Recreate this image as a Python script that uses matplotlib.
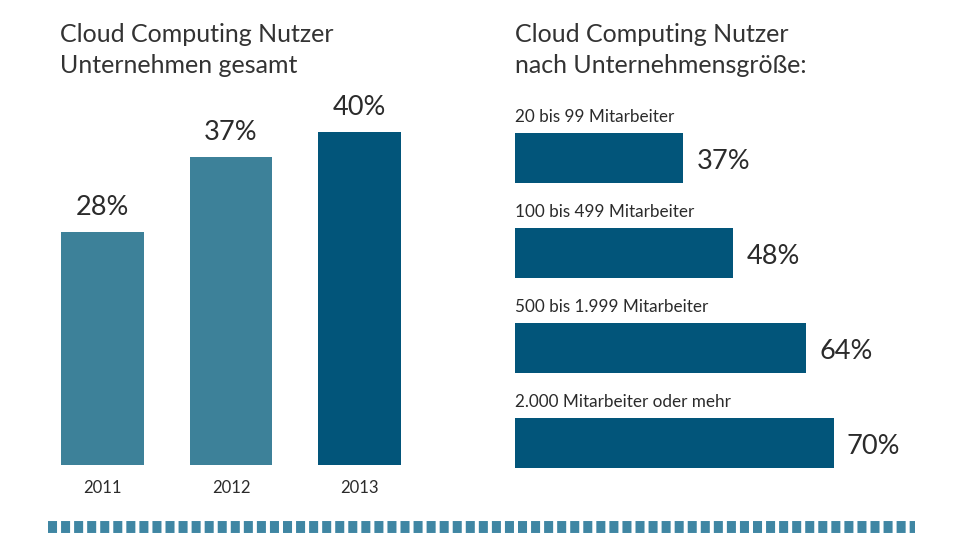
import matplotlib
matplotlib.use("Agg")
import matplotlib.pyplot as plt
from matplotlib.lines import Line2D

plt.rcParams['font.family'] = ['Lato', 'DejaVu Sans']
plt.rcParams['lines.scale_dashes'] = False

# Daten
jahre = ["2011", "2012", "2013"]
anteil_gesamt = [28, 37, 40]
farben_jahre = ["#3d8199", "#3d8199", "#02557a"]

groessen = ["20 bis 99 Mitarbeiter", "100 bis 499 Mitarbeiter",
            "500 bis 1.999 Mitarbeiter", "2.000 Mitarbeiter oder mehr"]
anteil_groesse = [37, 48, 64, 70]

W, H = 960, 539
fig = plt.figure(figsize=(W / 100, H / 100), dpi=100)
textfarbe = "#2b2b2b"

# Titel
fig.text(60 / W, 1 - 23 / H, "Cloud Computing Nutzer\nUnternehmen gesamt",
         fontsize=18, color="#333333", va="top", ha="left", linespacing=1.42)
fig.text(515 / W, 1 - 23 / H, "Cloud Computing Nutzer\nnach Unternehmensgröße:",
         fontsize=18, color="#333333", va="top", ha="left", linespacing=1.42)

# Linkes Diagramm: Säulen
ax1 = fig.add_axes([38 / W, 74 / H, 386 / W, 416 / H])
x = range(len(jahre))
ax1.bar(x, anteil_gesamt, width=0.64, color=farben_jahre)
for i, v in enumerate(anteil_gesamt):
    ax1.text(i, v + 1.5, f"{v}%", ha="center", va="bottom", fontsize=19.5, color=textfarbe)
    ax1.text(i, -2.8, jahre[i], ha="center", va="center", fontsize=12,
             color=textfarbe, clip_on=False)
ax1.set_xlim(-0.5, 2.5)
ax1.set_ylim(0, 50)
ax1.axis("off")

# Rechtes Diagramm: Balken
ax2 = fig.add_axes([515 / W, 48.5 / H, 455 / W, 380 / H])
y = range(len(groessen))
ax2.barh(y, anteil_groesse, height=0.526, color="#02557a", align="center")
for i, v in enumerate(anteil_groesse):
    ax2.text(0, i - 0.263 - 0.08, groessen[i], ha="left", va="bottom",
             fontsize=12.3, color=textfarbe)
    ax2.text(v + 2.9, i + 0.04, f"{v}%", ha="left", va="center", fontsize=19.5,
             color=textfarbe)
ax2.set_xlim(0, 100)
ax2.set_ylim(3.5, -0.5)
ax2.axis("off")

# gestrichelte Linie unten
fig.add_artist(Line2D([48 / W, 915 / W], [1 - 527 / H, 1 - 527 / H],
                      transform=fig.transFigure, color="#3f86a3", lw=8.6,
                      linestyle=(0, (6.5, 2.9)), solid_capstyle="butt",
                      dash_capstyle="butt"))

fig.savefig("out.png", dpi=100, facecolor="white")
